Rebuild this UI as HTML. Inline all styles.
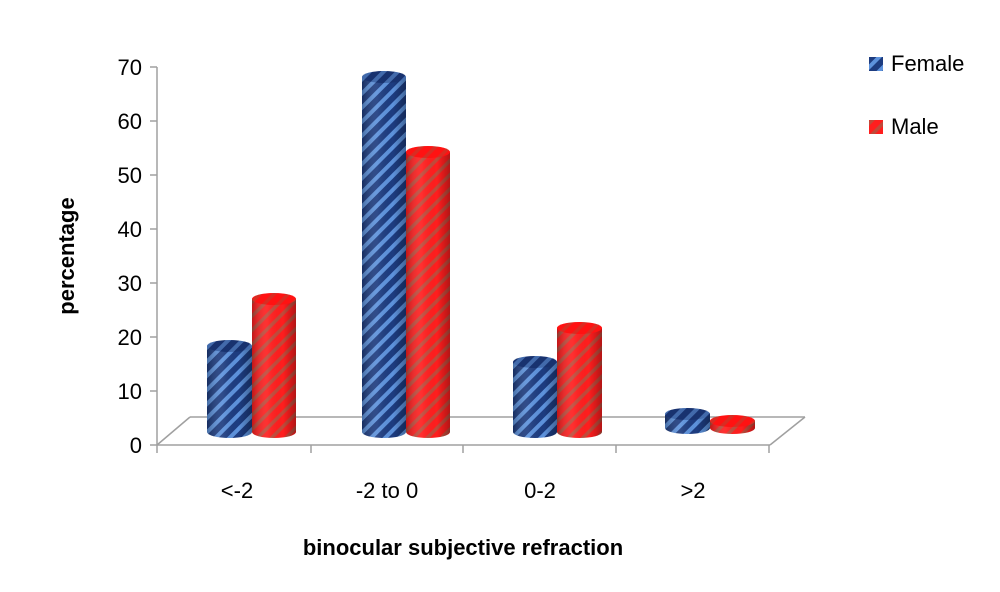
<!DOCTYPE html>
<html><head><meta charset="utf-8"><style>
body{margin:0;background:#fff;}
svg{display:block;font-family:"Liberation Sans",sans-serif;}
</style></head><body>
<svg width="1000" height="592" viewBox="0 0 1000 592" xmlns="http://www.w3.org/2000/svg">
<defs>
<pattern id="pb" width="10" height="10" patternUnits="userSpaceOnUse" patternTransform="rotate(45)">
<rect width="10" height="10" fill="#1d3c80"/><rect width="4" height="10" fill="#5d92dc"/></pattern>
<pattern id="pr" width="10" height="10" patternUnits="userSpaceOnUse" patternTransform="rotate(45)">
<rect width="10" height="10" fill="#ff1e1e"/><rect width="3.5" height="10" fill="#c04a3a"/></pattern>
<linearGradient id="sh" x1="0" x2="1" y1="0" y2="0">
<stop offset="0" stop-color="#000" stop-opacity="0.25"/>
<stop offset="0.35" stop-color="#fff" stop-opacity="0.08"/>
<stop offset="0.7" stop-color="#000" stop-opacity="0"/>
<stop offset="1" stop-color="#000" stop-opacity="0.3"/></linearGradient>
</defs>
<g stroke="#a0a0a0" stroke-width="1.5" fill="none">
<line x1="157" y1="67" x2="157" y2="445"/>
<line x1="157" y1="445" x2="770" y2="445"/>
<line x1="157" y1="445" x2="190" y2="417"/>
<line x1="190" y1="417" x2="805" y2="417"/>
<line x1="770" y1="445" x2="805" y2="417"/>
<line x1="150" y1="67" x2="157" y2="67"/><line x1="150" y1="121" x2="157" y2="121"/>
<line x1="150" y1="175" x2="157" y2="175"/><line x1="150" y1="229" x2="157" y2="229"/>
<line x1="150" y1="283" x2="157" y2="283"/><line x1="150" y1="337" x2="157" y2="337"/>
<line x1="150" y1="391" x2="157" y2="391"/><line x1="150" y1="445" x2="157" y2="445"/>
<line x1="157" y1="445" x2="157" y2="453"/><line x1="311" y1="445" x2="311" y2="453"/>
<line x1="463" y1="445" x2="463" y2="453"/><line x1="616" y1="445" x2="616" y2="453"/>
<line x1="769" y1="445" x2="769" y2="453"/>
</g>
<g font-size="22" fill="#000" text-anchor="end">
<text x="142" y="75">70</text><text x="142" y="129">60</text><text x="142" y="183">50</text>
<text x="142" y="237">40</text><text x="142" y="291">30</text><text x="142" y="345">20</text>
<text x="142" y="399">10</text><text x="142" y="453">0</text>
</g>
<g font-size="22" fill="#000" text-anchor="middle">
<text x="237" y="498">&lt;-2</text><text x="387" y="498">-2 to 0</text>
<text x="540" y="498">0-2</text><text x="693" y="498">&gt;2</text>
</g>
<text x="463" y="555" font-size="22" font-weight="bold" text-anchor="middle">binocular subjective refraction</text>
<text transform="translate(74,256) rotate(-90)" font-size="22" font-weight="bold" text-anchor="middle">percentage</text>
<g>
<path d="M207,346 V432 A22.5,6 0 0 0 252,432 V346 Z" fill="url(#pb)"/>
<path d="M207,346 V432 A22.5,6 0 0 0 252,432 V346 Z" fill="url(#sh)"/>
<ellipse cx="229.5" cy="346" rx="22.5" ry="6" fill="url(#pb)"/>
<ellipse cx="229.5" cy="346" rx="22.5" ry="6" fill="#102050" fill-opacity="0.35"/>
<path d="M252,299 V432 A22,6 0 0 0 296,432 V299 Z" fill="url(#pr)"/>
<path d="M252,299 V432 A22,6 0 0 0 296,432 V299 Z" fill="url(#sh)"/>
<ellipse cx="274" cy="299" rx="22" ry="6" fill="url(#pr)"/>
<ellipse cx="274" cy="299" rx="22" ry="6" fill="#ff0000" fill-opacity="0.4"/>

<path d="M362,77 V432 A22,6 0 0 0 406,432 V77 Z" fill="url(#pb)"/>
<path d="M362,77 V432 A22,6 0 0 0 406,432 V77 Z" fill="url(#sh)"/>
<ellipse cx="384" cy="77" rx="22" ry="6" fill="url(#pb)"/>
<ellipse cx="384" cy="77" rx="22" ry="6" fill="#102050" fill-opacity="0.35"/>
<path d="M406,152 V432 A22,6 0 0 0 450,432 V152 Z" fill="url(#pr)"/>
<path d="M406,152 V432 A22,6 0 0 0 450,432 V152 Z" fill="url(#sh)"/>
<ellipse cx="428" cy="152" rx="22" ry="6" fill="url(#pr)"/>
<ellipse cx="428" cy="152" rx="22" ry="6" fill="#ff0000" fill-opacity="0.4"/>

<path d="M513,362 V432 A22,6 0 0 0 557,432 V362 Z" fill="url(#pb)"/>
<path d="M513,362 V432 A22,6 0 0 0 557,432 V362 Z" fill="url(#sh)"/>
<ellipse cx="535" cy="362" rx="22" ry="6" fill="url(#pb)"/>
<ellipse cx="535" cy="362" rx="22" ry="6" fill="#102050" fill-opacity="0.35"/>
<path d="M557,328 V432 A22.5,6 0 0 0 602,432 V328 Z" fill="url(#pr)"/>
<path d="M557,328 V432 A22.5,6 0 0 0 602,432 V328 Z" fill="url(#sh)"/>
<ellipse cx="579.5" cy="328" rx="22.5" ry="6" fill="url(#pr)"/>
<ellipse cx="579.5" cy="328" rx="22.5" ry="6" fill="#ff0000" fill-opacity="0.4"/>

<path d="M665,414 V428 A22.5,6 0 0 0 710,428 V414 Z" fill="url(#pb)"/>
<path d="M665,414 V428 A22.5,6 0 0 0 710,428 V414 Z" fill="url(#sh)"/>
<ellipse cx="687.5" cy="414" rx="22.5" ry="6" fill="url(#pb)"/>
<ellipse cx="687.5" cy="414" rx="22.5" ry="6" fill="#102050" fill-opacity="0.35"/>
<path d="M710,421 V428 A22.5,6 0 0 0 755,428 V421 Z" fill="url(#pr)"/>
<path d="M710,421 V428 A22.5,6 0 0 0 755,428 V421 Z" fill="url(#sh)"/>
<ellipse cx="732.5" cy="421" rx="22.5" ry="6" fill="url(#pr)"/>
<ellipse cx="732.5" cy="421" rx="22.5" ry="6" fill="#ff0000" fill-opacity="0.4"/>
</g>
<rect x="869" y="57" width="14" height="14" fill="url(#pb)"/>
<text x="891" y="71" font-size="22">Female</text>
<rect x="869" y="120" width="14" height="14" fill="url(#pr)"/>
<text x="891" y="134" font-size="22">Male</text>
</svg>
</body></html>
